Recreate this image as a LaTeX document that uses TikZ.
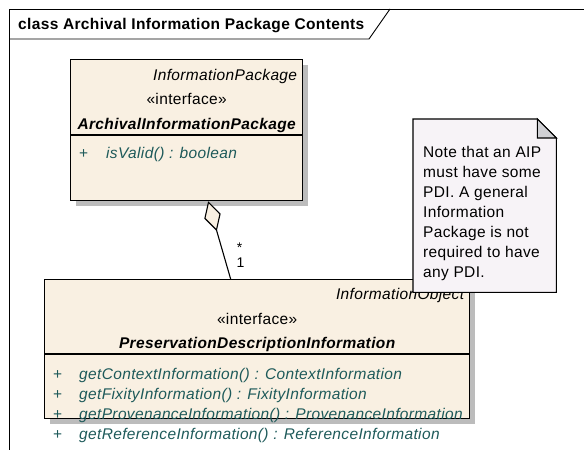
\documentclass[tikz,border=0pt]{standalone}
\usepackage{fontspec}
\setmainfont{Liberation Sans}[LetterSpace=2.3]
\usetikzlibrary{positioning,shadows,arrows.meta}
\definecolor{clsfill}{RGB}{249,240,226}
\definecolor{opteal}{RGB}{30,90,90}
\definecolor{notefill}{RGB}{247,243,247}
\definecolor{foldgray}{RGB}{208,208,212}
\definecolor{shadowgray}{RGB}{188,188,188}

\begin{document}
\begin{tikzpicture}[x=1pt,y=-1pt,
  every node/.style={inner sep=0pt,font=\fontsize{15.5}{20}\selectfont},
  frame/.style={line width=0.9pt},
  title/.style={anchor=base west,font=\fontsize{15.5}{18}\selectfont\bfseries},
  cls/.style={draw,line width=1.3pt,fill=clsfill,anchor=north west,
    drop shadow={shadow xshift=5pt,shadow yshift=-5pt,fill=shadowgray,opacity=1}},
  parent/.style={anchor=base east,font=\fontsize{15.5}{20}\selectfont\itshape},
  stereo/.style={anchor=base},
  clsname/.style={anchor=base,font=\fontsize{15.5}{20}\selectfont\bfseries\itshape},
  vis/.style={anchor=base west,text=opteal},
  op/.style={anchor=base west,text=opteal,font=\fontsize{15.5}{20}\selectfont\itshape},
  aggr/.style={line width=1.1pt,-{Diamond[fill=clsfill,length=31pt,width=17pt]}},
  mult/.style={anchor=base west,font=\fontsize{14}{16}\selectfont},
  notebox/.style={anchor=north west,minimum width=143pt,minimum height=173pt},
  notetext/.style={align=left,font=\fontsize{15.5}{20}\selectfont}]
\useasboundingbox (0,0) rectangle (584,450);

\draw[frame] (9,450) -- (9,9) -- (584,9);
\draw[frame] (9,39) -- (369,39) -- (390,9);
\node[title] (title) at (18,29) {class Archival Information Package Contents};

\node[cls,minimum width=232pt,minimum height=141pt] (aip) at (70,59) {};
\node[parent,below left=21pt and 6pt of aip.north east,anchor=base east] (aipparent) {InformationPackage};
\node[stereo,below=45pt of aip.north,anchor=base] (aipstereo) {«interface»};
\node[clsname,below=70pt of aip.north,anchor=base] (aipname) {ArchivalInformationPackage};
\draw[line width=1.3pt] ([yshift=-76pt]aip.north west) -- ([yshift=-76pt]aip.north east);
\node[vis,below right=99pt and 9pt of aip.north west,anchor=base west] (aipvis) {+};
\node[op,below right=99pt and 36pt of aip.north west,anchor=base west] (aipop) {isValid() : boolean};

\node[cls,minimum width=425pt,minimum height=139pt] (pdi) at (44,279) {};
\node[parent,below left=20pt and 6pt of pdi.north east,anchor=base east] (pdiparent) {InformationObject};
\node[stereo,below=45pt of pdi.north,anchor=base] (pdistereo) {«interface»};
\node[clsname,below=69pt of pdi.north,anchor=base] (pdiname) {PreservationDescriptionInformation};
\draw[line width=1.3pt] ([yshift=-75pt]pdi.north west) -- ([yshift=-75pt]pdi.north east);
\foreach \opname [count=\i] in {getContextInformation() : ContextInformation,getFixityInformation() : FixityInformation,getProvenanceInformation() : ProvenanceInformation,getReferenceInformation() : ReferenceInformation}{
  \pgfmathsetmacro\opy{79.7+20.3*\i}
  \node[vis,below right=\opy pt and 9pt of pdi.north west,anchor=base west] (pdivis\i) {+};
  \node[op,below right=\opy pt and 35pt of pdi.north west,anchor=base west] (pdiop\i) {\opname};
}

\draw[aggr] ([xshift=-26.5pt]pdi.north) -- ([xshift=21.5pt]aip.south);
\node[mult,above left=27pt and 20.5pt of pdi.north,anchor=base west] (many) {*};
\node[mult,above left=12pt and 20.8pt of pdi.north,anchor=base west] (one) {1};

\node[notebox] (note) at (413,119) {};
\filldraw[fill=notefill,line width=1.1pt] (note.north west) -- ([xshift=-19pt]note.north east)
  -- ([yshift=-19pt]note.north east) -- (note.south east) -- (note.south west) -- cycle;
\filldraw[fill=foldgray,line width=1.1pt] ([xshift=-19pt]note.north east) -- ([yshift=-19pt]note.north east)
  -- ([xshift=-19pt,yshift=-19pt]note.north east) -- cycle;
\node[notetext,below right=27pt and 10pt of note.north west] (notetxt) {Note that an AIP\\must have some\\PDI. A general\\Information\\Package is not\\required to have\\any PDI.};
\end{tikzpicture}
\end{document}
